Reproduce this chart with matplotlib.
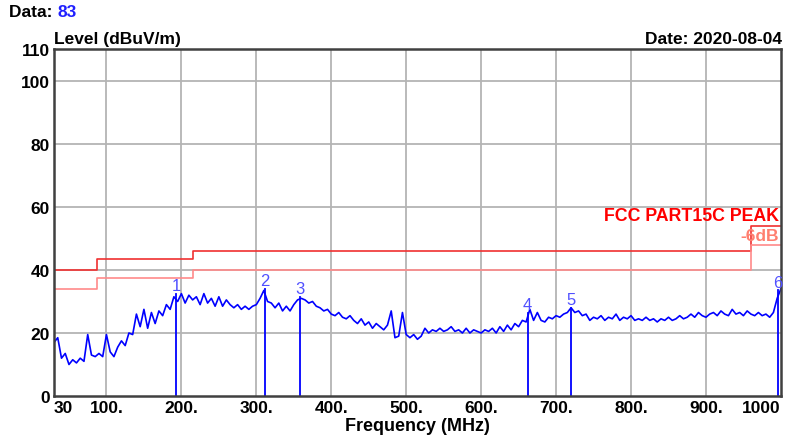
import numpy as np
import matplotlib.pyplot as plt

plt.rcParams['font.family'] = ['Liberation Sans', 'DejaVu Sans']

# measured sweep, 30..1000 MHz in 5 MHz steps (dBuV/m)
level = [
    17.0, 18.5, 12.0, 13.5, 10.0, 11.5, 10.5, 12.0, 11.0, 19.5,
    13.0, 12.5, 13.5, 12.5, 19.5, 14.0, 12.5, 15.5, 17.5, 16.0,
    20.0, 19.5, 26.0, 22.0, 27.5, 21.5, 26.5, 23.0, 27.0, 25.5,
    29.0, 27.5, 31.5, 30.0, 32.5, 29.5, 32.0, 30.5, 31.5, 29.0,
    32.5, 29.5, 31.0, 28.5, 31.5, 28.5, 30.5, 29.0, 28.0, 29.0,
    27.5, 28.5, 27.5, 28.5, 29.0, 31.0, 33.5, 30.0, 29.5, 28.0,
    29.5, 27.0, 28.5, 27.0, 29.0, 30.5, 31.0, 30.5, 29.5, 30.0,
    28.5, 28.0, 27.0, 27.5, 26.0, 25.5, 26.5, 25.0, 24.5, 25.5,
    24.0, 23.0, 24.5, 22.5, 23.5, 21.5, 23.0, 22.0, 21.0, 22.5,
    27.0, 18.5, 19.0, 26.5, 19.5, 18.5, 19.5, 18.0, 19.0, 21.5,
    20.0, 21.0, 20.5, 21.5, 20.5, 21.0, 22.0, 20.5, 21.0, 20.0,
    21.5, 20.0, 21.0, 20.5, 20.0, 21.0, 20.5, 21.5, 20.0, 22.0,
    20.5, 22.5, 21.0, 23.0, 22.0, 24.0, 23.5, 27.5, 24.0, 26.5,
    24.0, 23.5, 25.0, 24.5, 25.5, 25.0, 26.0, 26.5, 28.0, 26.5,
    27.0, 25.5, 26.0, 24.0, 25.0, 24.5, 25.5, 24.0, 25.0, 24.5,
    26.0, 24.0, 25.0, 24.5, 25.5, 24.0, 24.5, 24.0, 25.0, 24.0,
    24.5, 23.5, 24.5, 24.0, 25.0, 24.0, 24.5, 25.5, 24.5, 25.0,
    26.0, 25.0, 26.5, 25.5, 25.0, 26.0, 26.5, 25.5, 27.0, 26.0,
    25.5, 27.5, 26.0, 26.5, 25.5, 27.0, 26.0, 25.5, 26.5, 25.5,
    26.0, 25.0, 26.5, 31.0, 34.0,
]
freq = np.arange(30, 1001, 5)

# FCC part 15C limit (peak) and -6 dB line
lim_f = [30, 88, 216, 960, 1000]
lim_peak = [40, 43.5, 46, 54]
lim_6db = [34, 37.5, 40, 48]

# marker points
mk_f = [193, 311, 358, 662, 720, 996]
mk_lv = [32.5, 34.0, 31.5, 26.5, 28.0, 33.5]

xticks = [30, 100, 200, 300, 400, 500, 600, 700, 800, 900, 1000]
xlabels = ["30", "100.", "200.", "300.", "400.", "500.", "600.", "700.", "800.", "900.", "1000"]
yticks = [0, 20, 40, 60, 80, 100, 110]

fig = plt.figure(figsize=(7.94, 4.39), dpi=100)
ax = fig.add_axes([0.068, 0.0957, 0.9155, 0.7893])

ax.set_xlim(30, 1000)
ax.set_ylim(0, 110)

for xv in xticks[1:-1]:
    ax.axvline(xv, color="#b4b4b4", lw=1.3, zorder=0)
for yv in yticks[1:-1]:
    ax.axhline(yv, color="#b4b4b4", lw=1.3, zorder=0)

ax.step(lim_f, lim_peak + [lim_peak[-1]], where="post", color="#f03030", lw=1.2)
ax.step(lim_f, lim_6db + [lim_6db[-1]], where="post", color="#ff8a8a", lw=1.2)

ax.plot(freq, level, color="#0000ff", lw=1.2)

for f, lv, n in zip(mk_f, mk_lv, range(1, 7)):
    ax.plot([f, f], [0, lv], color="#0000ff", lw=1.3)
    ax.text(f, lv + 0.3, str(n), color="#5050ff", fontsize=12, ha="center", va="bottom")

ax.text(997, 54.6, "FCC PART15C PEAK", color="#ff0000", fontsize=12.8, fontweight="bold",
        ha="right", va="bottom")
ax.text(997, 48.6, "-6dB", color="#ff7f6f", fontsize=12.5, fontweight="bold", ha="right", va="bottom")

ax.set_xticks(xticks)
ax.set_xticklabels(xlabels)
ax.set_yticks(yticks)
ax.tick_params(length=0, labelsize=12.5, pad=3)
for lb in ax.get_xticklabels() + ax.get_yticklabels():
    lb.set_fontweight("bold")
xl = ax.get_xticklabels()
xl[0].set_ha("left")
xl[-1].set_ha("right")

for s in ax.spines.values():
    s.set_color("#404040")
    s.set_linewidth(1.8)

ax.set_xlabel("Frequency (MHz)", fontsize=13, fontweight="bold", labelpad=1)
fig.text(0.068, 0.893, "Level (dBuV/m)", fontsize=12.5, fontweight="bold", ha="left", va="bottom")
fig.text(0.985, 0.893, "Date: 2020-08-04", fontsize=12.5, fontweight="bold", ha="right", va="bottom")
fig.text(0.011, 0.972, "Data: ", fontsize=12.5, fontweight="bold", ha="left", va="center")
fig.text(0.073, 0.972, "83", fontsize=12.5, fontweight="bold", color="#2020ff", ha="left", va="center")

fig.savefig("out.png", dpi=100)
